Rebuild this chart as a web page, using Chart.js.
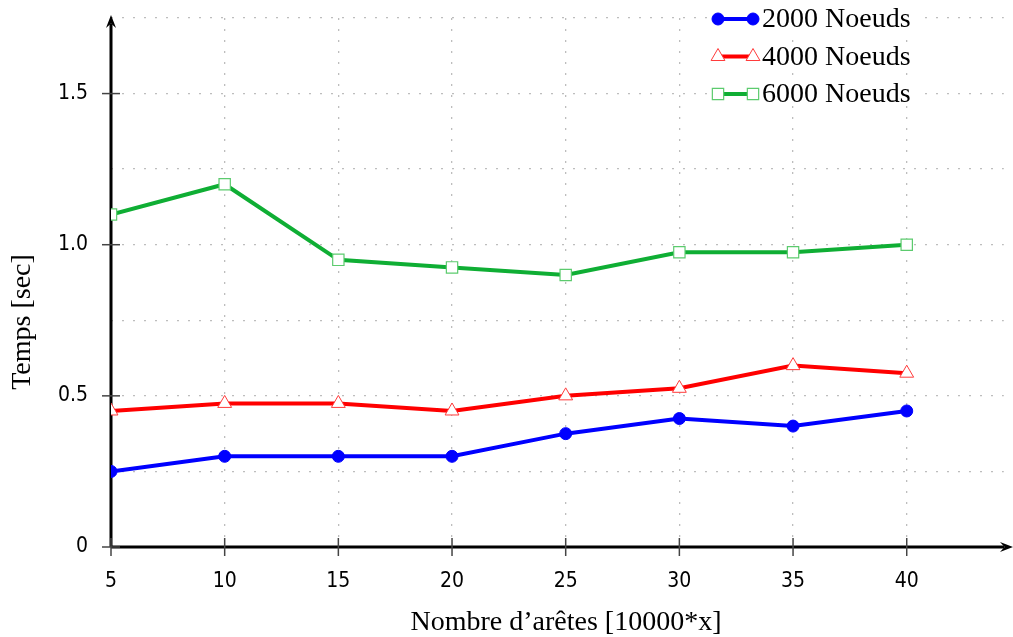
<!DOCTYPE html>
<html>
<head>
<meta charset="utf-8">
<script src="https://cdn.jsdelivr.net/npm/chart.js@4.4.0/dist/chart.umd.min.js"></script>
<style>
  html, body { margin: 0; padding: 0; background: #fff; }
  #wrap { width: 1013px; height: 637px; }
</style>
</head>
<body>
<div id="wrap"><canvas id="chart"></canvas></div>
<script>
// data
var xValues = [5, 10, 15, 20, 25, 30, 35, 40];
var nodes2000 = [0.25, 0.3, 0.3, 0.3, 0.375, 0.425, 0.4, 0.45];
var nodes4000 = [0.45, 0.475, 0.475, 0.45, 0.5, 0.525, 0.6, 0.575];
var nodes6000 = [1.1, 1.2, 0.95, 0.925, 0.9, 0.975, 0.975, 1.0];
var seriesLabels = ["2000 Noeuds", "4000 Noeuds", "6000 Noeuds"];
var yTickLabels = { "0": "0", "0.5": "0.5", "1": "1.0", "1.5": "1.5" };
var xTitle = "Nombre d’arêtes [10000*x]";
var yTitle = "Temps [sec]";

var serif = "'Liberation Serif', 'DejaVu Serif', serif";
var sans = "'DejaVu Sans Condensed', Roboto, sans-serif";

function points(values) {
  var out = [];
  for (var i = 0; i < xValues.length; i++) {
    out.push({ x: xValues[i], y: values[i] });
  }
  return out;
}

function arrow(ctx, tx, ty, dx, dy) {
  // filled arrow head with tip at (tx, ty), pointing along (dx, dy)
  var len = 13, half = 5;
  var bx = tx - dx * len, by = ty - dy * len;
  var nx = tx - dx * len * 0.65, ny = ty - dy * len * 0.65;
  ctx.beginPath();
  ctx.moveTo(tx, ty);
  ctx.lineTo(bx - dy * half, by + dx * half);
  ctx.lineTo(nx, ny);
  ctx.lineTo(bx + dy * half, by - dx * half);
  ctx.closePath();
  ctx.fill();
}

function noPadding(scale) {
  scale.paddingTop = 0;
  scale.paddingBottom = 0;
  scale.paddingLeft = 0;
  scale.paddingRight = 0;
}

var axesPlugin = {
  id: "axes",
  beforeDatasetsDraw: function (chart) {
    var ctx = chart.ctx;
    var xs = chart.scales.x, ys = chart.scales.y;
    var x0 = xs.getPixelForValue(5);
    var y0 = ys.getPixelForValue(0);
    ctx.save();
    ctx.strokeStyle = "#000";
    ctx.fillStyle = "#000";
    ctx.lineWidth = 3;
    ctx.beginPath();
    ctx.moveTo(x0, y0);
    ctx.lineTo(1004, y0);
    ctx.stroke();
    ctx.beginPath();
    ctx.moveTo(x0, y0);
    ctx.lineTo(x0, 24);
    ctx.stroke();
    arrow(ctx, 1013, y0, 1, 0);
    arrow(ctx, x0, 15, 0, -1);

    ctx.strokeStyle = "#444";
    ctx.lineWidth = 1.5;
    for (var i = 0; i < xValues.length; i++) {
      var px = xs.getPixelForValue(xValues[i]);
      ctx.beginPath();
      ctx.moveTo(px, y0 - 9);
      ctx.lineTo(px, y0 + 9);
      ctx.stroke();
    }
    var yTicks = [0, 0.5, 1, 1.5];
    for (var j = 0; j < yTicks.length; j++) {
      var py = ys.getPixelForValue(yTicks[j]);
      ctx.beginPath();
      ctx.moveTo(x0 - 9, py);
      ctx.lineTo(x0 + 9, py);
      ctx.stroke();
    }

    // axis titles
    ctx.fillStyle = "#000";
    ctx.font = "28px " + serif;
    ctx.textAlign = "center";
    ctx.textBaseline = "alphabetic";
    ctx.fillText(xTitle, 566, 630);
    ctx.translate(30, 322);
    ctx.rotate(-Math.PI / 2);
    ctx.fillText(yTitle, 0, 0);
    ctx.restore();
  },
  afterDraw: function (chart) {
    var ctx = chart.ctx;
    ctx.save();
    chart.data.datasets.forEach(function (ds, i) {
      var y = 19 + i * 37.5;
      ctx.fillStyle = "#fff";
      ctx.fillRect(708, y - 12, 210, 24);
      ctx.strokeStyle = ds.borderColor;
      ctx.lineWidth = ds.borderWidth;
      ctx.beginPath();
      ctx.moveTo(718, y);
      ctx.lineTo(753, y);
      ctx.stroke();
      ctx.fillStyle = ds.pointBackgroundColor;
      ctx.strokeStyle = ds.pointBorderColor;
      ctx.lineWidth = ds.pointBorderWidth;
      var opts = { pointStyle: ds.pointStyle, radius: ds.pointRadius, borderWidth: ds.pointBorderWidth, rotation: 0 };
      Chart.helpers.drawPoint(ctx, opts, 718, y);
      Chart.helpers.drawPoint(ctx, opts, 753, y);
      ctx.fillStyle = "#000";
      ctx.font = "28px " + serif;
      ctx.textBaseline = "middle";
      ctx.textAlign = "left";
      ctx.fillText(ds.label, 762, y + 1);
    });
    ctx.restore();
  }
};

var ctx = document.getElementById("chart").getContext("2d");
var myChart = new Chart(ctx, {
  type: "line",
  data: {
    datasets: [
      {
        label: seriesLabels[0],
        data: points(nodes2000),
        borderColor: "#0000ff",
        borderWidth: 4,
        pointStyle: "circle",
        pointRadius: 6,
        pointBackgroundColor: "#0000ff",
        pointBorderColor: "#0000ff",
        pointBorderWidth: 1,
      },
      {
        label: seriesLabels[1],
        data: points(nodes4000),
        borderColor: "#ff0000",
        borderWidth: 4,
        pointStyle: "triangle",
        pointRadius: 8,
        pointBackgroundColor: "#ffffff",
        pointBorderColor: "#ff3b3b",
        pointBorderWidth: 1,
      },
      {
        label: seriesLabels[2],
        data: points(nodes6000),
        borderColor: "#0fae34",
        borderWidth: 4,
        pointStyle: "rect",
        pointRadius: 8,
        pointBackgroundColor: "#ffffff",
        pointBorderColor: "#5ccb6e",
        pointBorderWidth: 1.2,
      },
    ],
  },
  options: {
    responsive: true,
    maintainAspectRatio: false,
    animation: false,
    layout: { padding: { top: 18, right: 0, left: 0, bottom: 0 } },
    plugins: {
      legend: { display: false },
      tooltip: { enabled: false },
    },
    elements: { line: { tension: 0 } },
    scales: {
      x: {
        type: "linear",
        min: 5,
        max: 44.27,
        afterFit: function (scale) { scale.height = 90; noPadding(scale); },
        border: { display: false, dash: [2, 9] },
        grid: { color: "#bdbdbd", lineWidth: 1.3, drawTicks: false },
        ticks: {
          stepSize: 5,
          includeBounds: false,
          padding: 22,
          maxRotation: 0,
          color: "#000",
          font: { family: sans, size: 21 },
        },
      },
      y: {
        min: 0,
        max: 1.75,
        afterFit: function (scale) { scale.width = 111; noPadding(scale); },
        border: { display: false, dash: [2, 9] },
        grid: { color: "#bdbdbd", lineWidth: 1.3, drawTicks: false },
        ticks: {
          stepSize: 0.25,
          padding: 23,
          color: "#000",
          font: { family: sans, size: 21 },
          callback: function (value) {
            var key = String(Math.round(value * 100) / 100);
            return yTickLabels[key] !== undefined ? yTickLabels[key] : "";
          },
        },
      },
    },
  },
  plugins: [axesPlugin],
});
</script>
</body>
</html>
